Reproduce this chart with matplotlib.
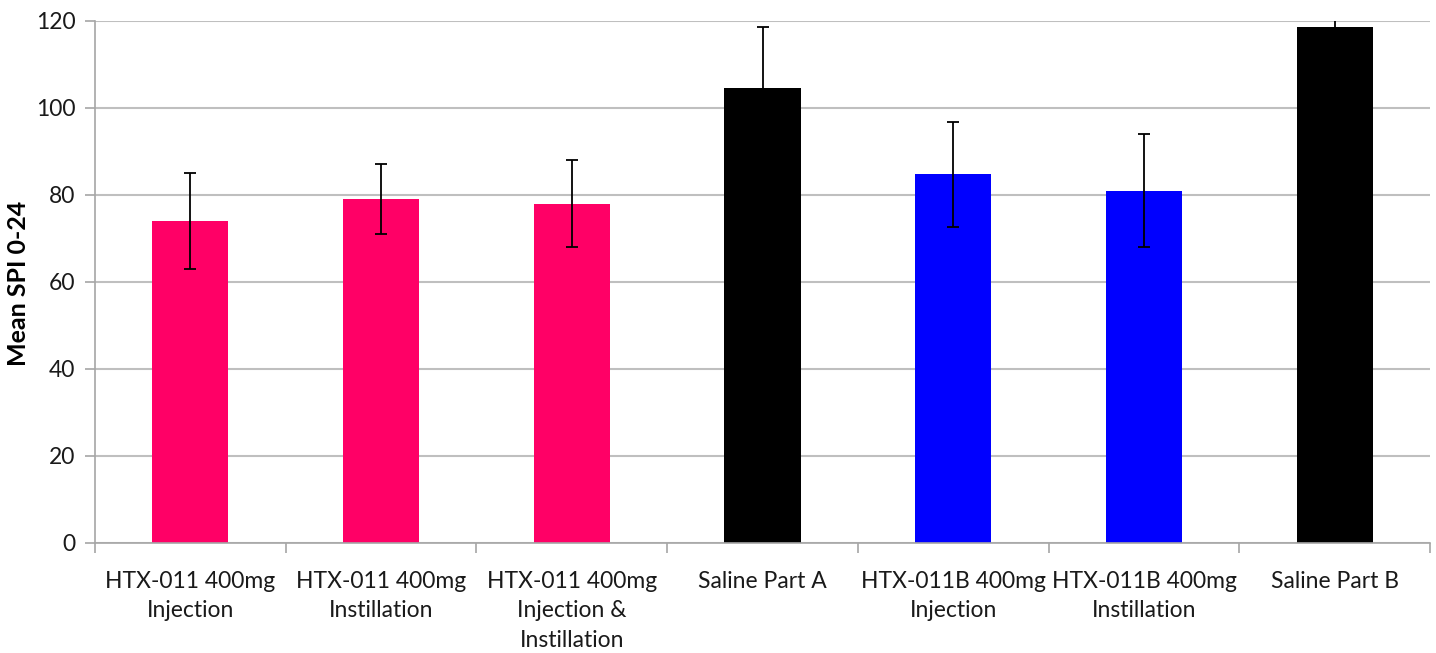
import numpy as np
import matplotlib.pyplot as plt
from matplotlib.ticker import FixedLocator

plt.rcParams['font.family'] = ['Lato', 'DejaVu Sans']

labels = ['HTX-011 400mg\nInjection', 'HTX-011 400mg\nInstillation',
          'HTX-011 400mg\nInjection &\nInstillation', 'Saline Part A',
          'HTX-011B 400mg\nInjection', 'HTX-011B 400mg\nInstillation',
          'Saline Part B']
means = [74.0, 79.0, 78.0, 104.5, 84.7, 81.0, 118.7]
errors = [11.0, 8.0, 10.0, 14.2, 12.0, 13.0, 14.0]
colors = ['#FF0066', '#FF0066', '#FF0066', '#000000', '#0000FF', '#0000FF', '#000000']

fig = plt.figure(figsize=(14.36, 6.53), dpi=100)
ax = fig.add_axes([0.066, 0.1685, 0.93, 0.7995])

x = np.arange(len(means))
ax.bar(x, means, width=0.4, color=colors, zorder=2)
ax.errorbar(x, means, yerr=errors, fmt='none', ecolor='black', elinewidth=1.3,
            capsize=4, capthick=1.3, zorder=3)

ax.set_xlim(-0.5, len(means) - 0.5)
ax.set_ylim(0, 120)
ax.set_yticks(np.arange(0, 121, 20))
ax.yaxis.grid(True, color='#BFBFBF', linewidth=1.5, zorder=0)
ax.set_axisbelow(True)

ax.set_xticks(x)
ax.set_xticklabels(labels, fontsize=16.5, color='#1a1a1a', linespacing=1.5)
ax.tick_params(axis='x', which='major', length=0, pad=20)
ax.xaxis.set_minor_locator(FixedLocator(np.arange(-0.5, len(means), 1.0)))
ax.tick_params(axis='x', which='minor', length=7, width=1.2, color='#A6A6A6')
ax.tick_params(axis='y', length=7, width=1.2, color='#A6A6A6', labelsize=16.5,
               labelcolor='#1a1a1a', pad=7)

for s in ['top', 'right']:
    ax.spines[s].set_visible(False)
for s in ['left', 'bottom']:
    ax.spines[s].set_color('#A6A6A6')
    ax.spines[s].set_linewidth(1.2)

fig.text(19 / 1436, 1 - 283 / 653, 'Mean SPI 0-24', fontsize=18, fontweight='bold',
         rotation=90, ha='center', va='center')

fig.savefig('out.png', dpi=100)
